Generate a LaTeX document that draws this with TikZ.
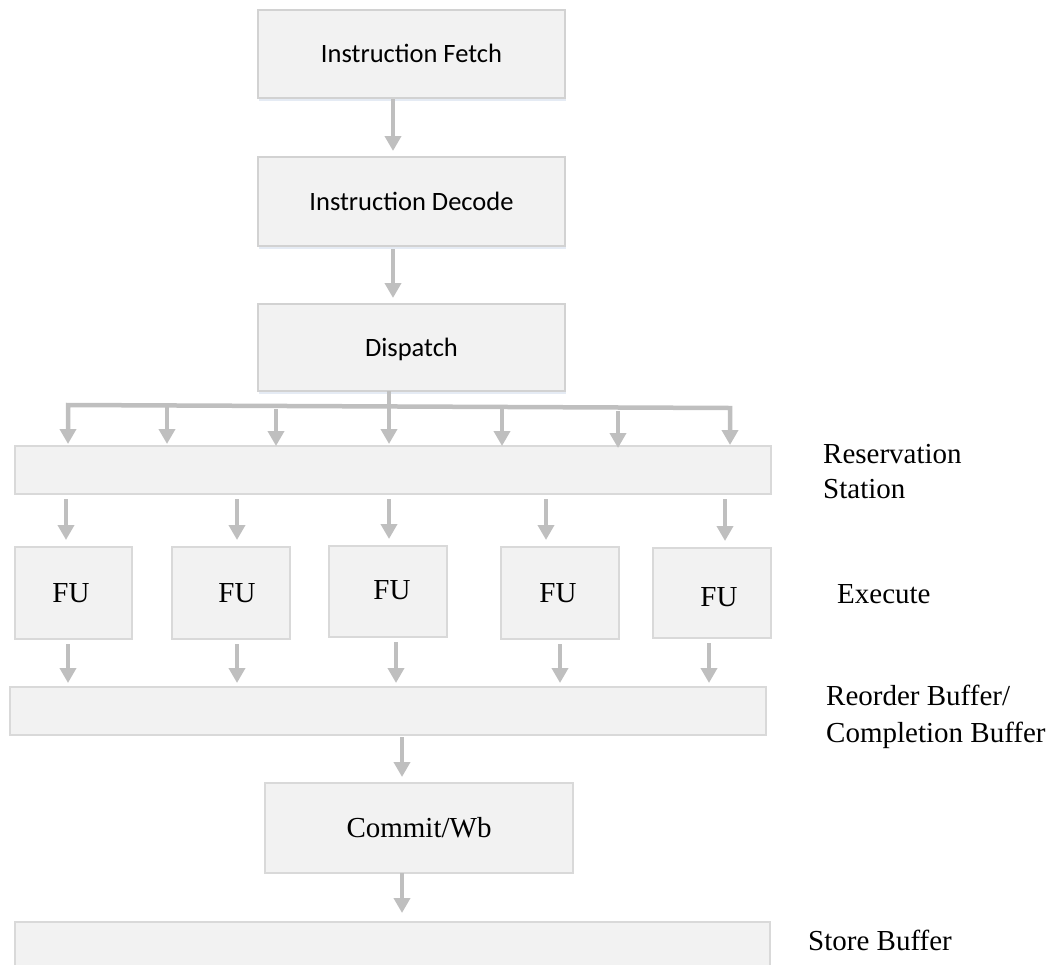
\documentclass[tikz,border=0pt]{standalone}
\usepackage{fontspec}
\setmainfont{Liberation Serif}
\newfontfamily\calibri{Carlito}
\usetikzlibrary{arrows.meta,shadows}
\definecolor{boxfill}{HTML}{F2F2F2}
\definecolor{boxline}{HTML}{D9D9D9}
\definecolor{stageline}{HTML}{D2D2D2}
\definecolor{connc}{HTML}{BFBFBF}
\definecolor{shade}{HTML}{D3DEEC}

\begin{document}
\begin{tikzpicture}[x=1pt,y=-1pt,
  box/.style={draw=boxline, fill=boxfill, line width=2.5pt, inner sep=0pt, outer sep=0pt},
  stage/.style={draw=stageline, fill=boxfill, line width=1.5pt, inner sep=0pt, outer sep=0pt,
    drop shadow={shadow xshift=1pt, shadow yshift=-2.5pt, fill=shade, opacity=0.6},
    font=\calibri\fontsize{26.5}{31}\selectfont, text height=17pt, text depth=0pt},
  serifbox/.style={box, font=\fontsize{29}{35}\selectfont, text height=19pt, text depth=0pt},
  futext/.style={inner sep=0pt, font=\fontsize{29}{35}\selectfont, text height=19pt, text depth=0pt},
  lbl/.style={anchor=base west, inner sep=0pt, font=\fontsize{29}{35}\selectfont},
  conn/.style={draw=connc, line width=4.5pt},
  tip/.tip={Triangle[width=16pt,length=15pt]},
  arr/.style={conn, -tip}
]
\useasboundingbox (0,0) rectangle (1059,964);
\clip (0,0) rectangle (1059,964);

% front-end stages
\node[stage, minimum width=307pt, minimum height=88pt] (fetch) at (411.5,54) {Instruction Fetch};
\node[stage, minimum width=307pt, minimum height=89pt] (decode) at (411.5,201.5) {Instruction Decode};
\node[stage, minimum width=307pt, minimum height=87pt] (dispatch) at (411.5,347.5) {Dispatch};

% buffers
\node[box, minimum width=756pt, minimum height=48pt] (rs) at (393,470) {};
\node[box, minimum width=756pt, minimum height=48pt] (rob) at (388,711) {};
\node[box, minimum width=755pt, minimum height=68pt] (store) at (392.5,956) {};

% functional units
\node[box, minimum width=117pt, minimum height=92pt] (fu1) at (73.5,593) {};
\node[box, minimum width=118pt, minimum height=92pt] (fu2) at (231,593) {};
\node[box, minimum width=118pt, minimum height=91pt] (fu3) at (388,591.5) {};
\node[box, minimum width=118pt, minimum height=92pt] (fu4) at (560,593) {};
\node[box, minimum width=118pt, minimum height=90pt] (fu5) at (712,593) {};
\node[futext] (fu1t) at (71,593) {FU};
\node[futext] (fu2t) at (237,593) {FU};
\node[futext] (fu3t) at (392,590) {FU};
\node[futext] (fu4t) at (558,593) {FU};
\node[futext] (fu5t) at (719,597) {FU};

% commit
\node[serifbox, minimum width=308pt, minimum height=90pt] (commit) at (419,828) {Commit/Wb};

% stage labels
\node[lbl] (lrs1) at (823,463) {Reservation};
\node[lbl] (lrs2) at (823,498) {Station};
\node[lbl] (lex) at (837,603) {Execute};
\node[lbl] (lrob1) at (826,705) {Reorder Buffer/};
\node[lbl] (lrob2) at (826,742) {Completion Buffer};
\node[lbl] (lsb) at (808,950) {Store Buffer};

% front-end arrows
\draw[arr, shorten <=1pt, shorten >=6pt] ([xshift=-18.5pt]fetch.south) -- ([xshift=-18.5pt]decode.north);
\draw[arr, shorten <=3pt, shorten >=6pt] ([xshift=-18.5pt]decode.south) -- ([xshift=-18.5pt]dispatch.north);

% dispatch fan-out to the reservation station
\path ([xshift=-22.5pt]dispatch.south) coordinate (stem);
\coordinate (fanL) at (68,405);
\coordinate (fanR) at (730,408);
\coordinate (f2) at (167,405);
\coordinate (f3) at (276,409);
\coordinate (f5) at (502,409);
\coordinate (f6) at (618,411);
\draw[conn, tip-tip, shorten <=2pt, shorten >=1pt] (fanL |- rs.north) -- (fanL) -- (fanR) -- (fanR |- rs.north);
\draw[arr, shorten >=2pt] (stem) -- (stem |- rs.north);
\draw[arr, shorten >=2pt] (f2) -- (f2 |- rs.north);
\draw[arr] (f3) -- (f3 |- rs.north);
\draw[arr] (f5) -- (f5 |- rs.north);
\draw[arr, shorten >=-2pt] (f6) -- (f6 |- rs.north);

% reservation station to functional units
\foreach \fu/\dx in {fu1/-7.5, fu2/6, fu3/1, fu4/-14, fu5/13} {
  \path ([xshift=\dx pt]\fu.north) coordinate (t);
  \draw[arr, shorten <=5pt, shorten >=7pt] (rs.south -| t) -- (t);
}

% functional units to reorder buffer
\foreach \fu/\dx in {fu1/-5.5, fu2/6, fu3/8, fu4/0, fu5/-3} {
  \path ([xshift=\dx pt]\fu.south) coordinate (b);
  \draw[arr, shorten <=5pt, shorten >=4pt] (b) -- (rob.north -| b);
}

% retirement
\path ([xshift=-17pt]commit.north) coordinate (cin);
\path ([xshift=-17pt]commit.south) coordinate (cout);
\draw[arr, shorten <=2pt, shorten >=6pt] (rob.south -| cin) -- (cin);
\draw[arr, shorten >=9pt] (cout) -- (store.north -| cout);
\end{tikzpicture}
\end{document}
